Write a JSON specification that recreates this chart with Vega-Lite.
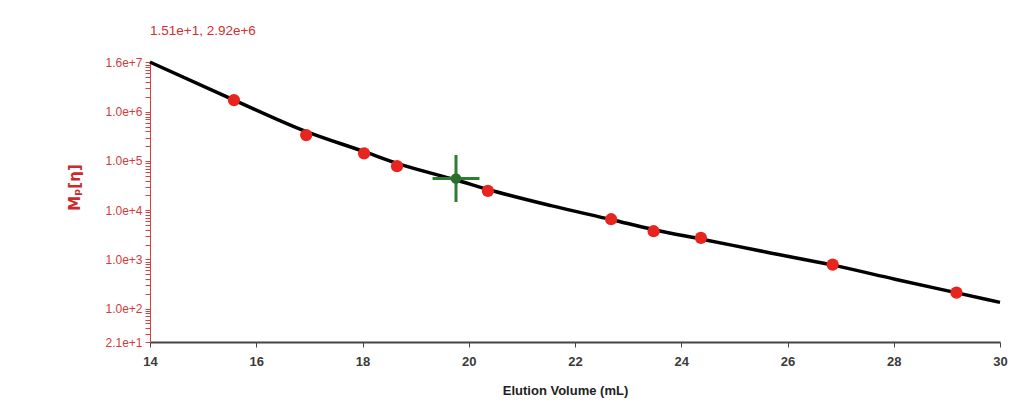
{
  "$schema": "https://vega.github.io/schema/vega-lite/v6.json",
  "width": 850,
  "height": 280,
  "autosize": {"type": "none"},
  "padding": {"left": 150, "top": 62, "right": 33, "bottom": 62},
  "background": "white",
  "config": {"view": {"stroke": null}, "axis": {"grid": false}},
  "title": {
    "text": "1.51e+1, 2.92e+6",
    "anchor": "start",
    "frame": "group",
    "color": "#d0302e",
    "font": "Liberation Sans",
    "fontSize": 13.5,
    "fontWeight": "normal",
    "offset": 18
  },
  "datasets": {
    "curve": [
      {"volume": 14.0, "mp": 10200000},
      {"volume": 15.562, "mp": 1770000},
      {"volume": 16.918, "mp": 405000},
      {"volume": 18.047, "mp": 153000},
      {"volume": 18.668, "mp": 88300},
      {"volume": 19.779, "mp": 40700},
      {"volume": 20.381, "mp": 26100},
      {"volume": 21.548, "mp": 12400},
      {"volume": 22.696, "mp": 6410},
      {"volume": 23.487, "mp": 4010},
      {"volume": 24.391, "mp": 2570},
      {"volume": 25.614, "mp": 1400},
      {"volume": 26.852, "mp": 765},
      {"volume": 28.024, "mp": 397},
      {"volume": 29.191, "mp": 209},
      {"volume": 30.0, "mp": 134}
    ],
    "standards": [
      {"volume": 15.58, "mp": 1730000},
      {"volume": 16.94, "mp": 336000},
      {"volume": 18.03, "mp": 143000},
      {"volume": 18.65, "mp": 78500},
      {"volume": 20.36, "mp": 24700},
      {"volume": 22.68, "mp": 6560},
      {"volume": 23.48, "mp": 3740},
      {"volume": 24.37, "mp": 2730},
      {"volume": 26.85, "mp": 785},
      {"volume": 29.18, "mp": 212}
    ],
    "marker": [
      {"volume": 19.76, "mp": 44200}
    ]
  },
  "encoding": {
    "x": {
      "field": "volume",
      "type": "quantitative",
      "scale": {"domain": [14, 30], "nice": false, "zero": false},
      "axis": {
        "title": "Elution Volume (mL)",
        "values": [14, 16, 18, 20, 22, 24, 26, 28, 30],
        "labelFlush": false,
        "domainColor": "#444444",
        "domainWidth": 2,
        "tickColor": "#444444",
        "tickSize": 5,
        "labelPadding": 8,
        "labelFont": "Liberation Sans",
        "labelFontSize": 13,
        "labelFontWeight": "bold",
        "labelColor": "#3a3a3a",
        "titleFont": "Liberation Sans",
        "titleFontSize": 13,
        "titleFontWeight": "bold",
        "titleColor": "#222222",
        "titlePadding": 16,
        "titleX": 415
      }
    },
    "y": {
      "field": "mp",
      "type": "quantitative",
      "scale": {"type": "log", "domain": [21, 10260000], "nice": false, "zero": false},
      "axis": {
        "title": "Mₚ[η]",
        "values": [21, 30, 40, 50, 60, 70, 80, 90, 100, 200, 300, 400, 500, 600, 700, 800, 900, 1000, 2000, 3000, 4000, 5000, 6000, 7000, 8000, 9000, 10000, 20000, 30000, 40000, 50000, 60000, 70000, 80000, 90000, 100000, 200000, 300000, 400000, 500000, 600000, 700000, 800000, 900000, 1000000, 2000000, 3000000, 4000000, 5000000, 6000000, 7000000, 8000000, 9000000, 10260000],
        "labelExpr": "indexof([21, 100, 1000, 10000, 100000, 1000000], datum.value) >= 0 ? format(datum.value, '.1e') : (datum.value > 10000000 ? '1.6e+7' : '')",
        "labelOverlap": false,
        "labelBound": false,
        "domainColor": "#d84040",
        "tickColor": "#d84040",
        "tickSize": 5,
        "labelPadding": 3,
        "labelFont": "Liberation Sans",
        "labelFontSize": 12,
        "labelColor": "#d03c3c",
        "titleFont": "DejaVu Sans",
        "titleFontSize": 15,
        "titleFontWeight": "bold",
        "titleColor": "#d02828",
        "titlePadding": 22,
        "titleY": 125
      }
    }
  },
  "layer": [
    {
      "data": {"name": "curve"},
      "mark": {"type": "line", "color": "#000000", "strokeWidth": 3.5, "interpolate": "monotone"}
    },
    {
      "data": {"name": "standards"},
      "mark": {"type": "point", "shape": "circle", "filled": true, "color": "#e8241e", "opacity": 1, "size": 150}
    },
    {
      "data": {"name": "marker"},
      "mark": {"type": "point", "shape": "M-1,0L1,0M0,-1L0,1", "filled": false, "stroke": "#2f7d32", "strokeWidth": 3, "opacity": 1, "size": 2200}
    },
    {
      "data": {"name": "marker"},
      "mark": {"type": "point", "shape": "circle", "filled": true, "color": "#2b6e2b", "opacity": 1, "size": 110}
    }
  ]
}
